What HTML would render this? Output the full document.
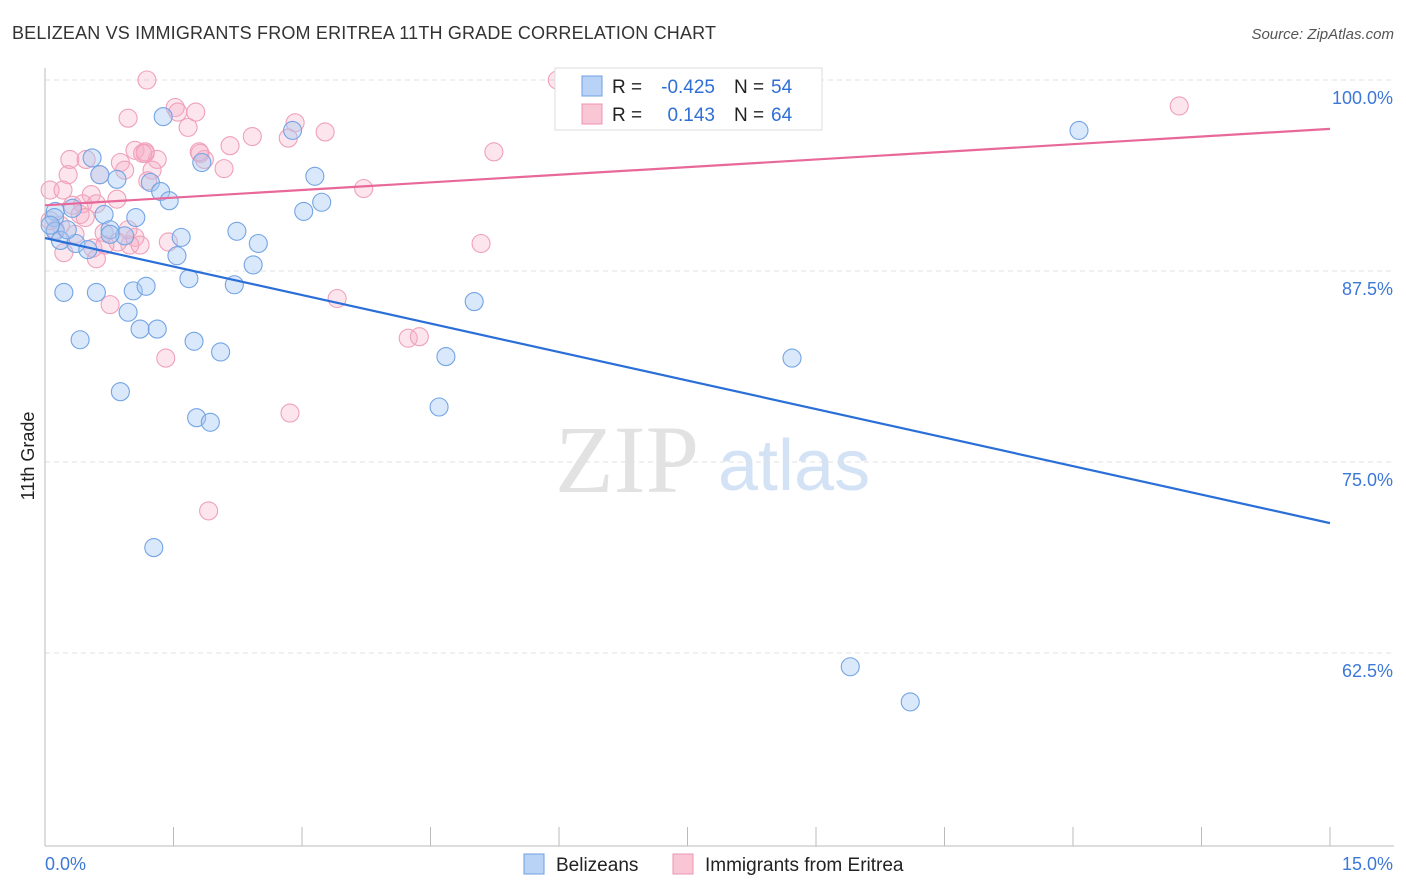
<!DOCTYPE html>
<html><head><meta charset="utf-8">
<style>
body{margin:0;background:#fff;font-family:"Liberation Sans",sans-serif;}
#wrap{position:relative;width:1406px;height:892px;overflow:hidden;}
</style></head>
<body>
<div id="wrap">
<svg id="chart" width="1406" height="892" xmlns="http://www.w3.org/2000/svg">
<text x="12" y="39" font-size="18" fill="#333" textLength="704">BELIZEAN VS IMMIGRANTS FROM ERITREA 11TH GRADE CORRELATION CHART</text>
<text x="1394" y="39" font-size="15" fill="#555" font-style="italic" text-anchor="end">Source: ZipAtlas.com</text>
<text x="34" y="456" font-size="18" fill="#222" text-anchor="middle" transform="rotate(-90 34 456)">11th Grade</text>
<text x="555" y="492" font-size="96" fill="#e2e2e2" font-family="Liberation Serif,serif">ZIP</text>
<text x="718" y="490" font-size="72" fill="#d3e2f5">atlas</text>
<g id="grid"></g><g id="axes"></g><g id="pts"></g><g id="lines"></g>
<g>
<rect x="555" y="68" width="267" height="62" fill="#fff" stroke="#ddd"/>
<rect x="582" y="76" width="20" height="20" fill="#b8d3f5" stroke="#6f9fe0"/>
<rect x="582" y="104" width="20" height="20" fill="#f9c6d5" stroke="#ec94b0"/>
<text x="612" y="93" font-size="19" fill="#222">R =</text>
<text x="715" y="93" font-size="19" fill="#2f6fd6" text-anchor="end">-0.425</text>
<text x="734" y="93" font-size="19" fill="#222">N =</text>
<text x="771" y="93" font-size="19" fill="#2f6fd6">54</text>
<text x="612" y="121" font-size="19" fill="#222">R =</text>
<text x="715" y="121" font-size="19" fill="#2f6fd6" text-anchor="end">0.143</text>
<text x="734" y="121" font-size="19" fill="#222">N =</text>
<text x="771" y="121" font-size="19" fill="#2f6fd6">64</text>
</g>
<g>
<rect x="524" y="854" width="20" height="20" fill="#b8d3f5" stroke="#6f9fe0"/>
<text x="556" y="871" font-size="19" fill="#222">Belizeans</text>
<rect x="673" y="854" width="20" height="20" fill="#f9c6d5" stroke="#ec94b0"/>
<text x="705" y="871" font-size="19" fill="#222">Immigrants from Eritrea</text>
</g>
</svg>
</div>
<script>
const yTicks=[100,87.5,75,62.5];
const yTickLabels=["100.0%","87.5%","75.0%","62.5%"];
const xTickCount=10;
const xLabels=["0.0%","15.0%"];
const blueX=[0.55,1.38,1.83,2.89,0.64,0.84,1.23,1.35,1.45,3.15,3.23,3.02,12.07,0.12,0.11,0.32,0.69,1.06,0.76,0.93,0.12,0.18,0.36,1.59,1.54,2.24,2.49,2.43,1.68,2.21,0.22,0.60,1.03,1.18,5.01,0.97,1.11,1.31,0.41,1.74,2.05,4.68,8.72,0.88,1.77,1.93,4.60,1.27,9.40,10.10,0.26,0.06,0.50,0.76];
const blueY=[94.9,97.6,94.6,96.7,93.8,93.5,93.3,92.7,92.1,93.7,92.0,91.4,96.7,91.4,91.0,91.6,91.2,91.0,90.2,89.8,90.1,89.5,89.3,89.7,88.5,90.1,89.3,87.9,87.0,86.6,86.1,86.1,86.2,86.5,85.5,84.8,83.7,83.7,83.0,82.9,82.2,81.9,81.8,79.6,77.9,77.6,78.6,69.4,61.6,59.3,90.2,90.5,88.9,89.9];
const pinkX=[1.19,5.98,1.52,1.76,0.97,1.67,2.92,3.27,2.42,2.16,2.84,13.24,0.29,0.48,0.88,1.05,1.17,1.31,1.86,2.09,0.93,1.25,0.27,0.64,1.20,3.72,5.24,1.81,0.06,0.21,0.54,0.84,0.32,0.41,0.44,0.60,0.12,0.35,0.69,1.05,1.44,0.99,0.56,0.22,0.60,5.09,3.41,0.76,1.41,4.24,4.37,2.86,1.91,0.06,0.18,0.47,0.85,0.97,1.80,1.55,1.17,1.14,0.70,1.11];
const pinkY=[100,100,98.2,97.9,97.5,96.9,97.2,96.6,96.3,95.7,96.2,98.3,94.8,94.8,94.6,95.4,95.2,94.8,94.8,94.2,94.1,94.1,93.8,93.8,93.4,92.9,95.3,95.2,92.8,92.8,92.5,92.2,91.8,91.2,91.9,91.9,90.2,89.9,90.0,89.7,89.4,89.2,89.0,88.7,88.3,89.3,85.7,85.3,81.8,83.1,83.2,78.2,71.8,90.8,90.5,91.0,89.4,90.2,95.3,97.9,95.3,95.2,89.2,89.2];
const blueTrend=[89.66,71.0];
const pinkTrend=[91.8,96.8];
const trendX=[0,15];

const NS="http://www.w3.org/2000/svg";
const X=v=>45+v/15*1285;
const Y=v=>80+(100-v)/12.5*191;
function mk(tag,attrs,parent){const e=document.createElementNS(NS,tag);for(const k in attrs)e.setAttribute(k,attrs[k]);parent.appendChild(e);return e;}
const grid=document.getElementById('grid'),axes=document.getElementById('axes'),pts=document.getElementById('pts'),lines=document.getElementById('lines');
yTicks.forEach((t,i)=>{
  const l=mk('line',{x1:45,x2:1394,y1:Y(t),y2:Y(t),stroke:'#e0e0e0','stroke-dasharray':'5,4'},grid);
  
  
  const tx=mk('text',{x:1393,y:Y(t)+24,'font-size':18,fill:'#3c78d8','text-anchor':'end'},grid);
  tx.textContent=yTickLabels[i];
  
  
});
const ax=mk('line',{x1:45,x2:45,y1:68,y2:846,stroke:'#bbb'},axes);


const bx=mk('line',{x1:45,x2:1394,y1:846,y2:846,stroke:'#bbb'},axes);


for(let i=0;i<=xTickCount;i++){
  const t=mk('line',{x1:X(i*1.5),x2:X(i*1.5),y1:827,y2:846,stroke:'#bbb'},axes);
  
  
}
const xl0=mk('text',{x:45,y:870,'font-size':18,fill:'#3c78d8'},axes);xl0.textContent=xLabels[0];


const xl1=mk('text',{x:1393,y:870,'font-size':18,fill:'#3c78d8','text-anchor':'end'},axes);xl1.textContent=xLabels[1];


pinkX.forEach((v,i)=>{
  const c=mk('circle',{cx:X(v),cy:Y(pinkY[i]),r:9,fill:'rgba(247,175,198,0.32)',stroke:'#f0a0b9','stroke-width':1.1},pts);
  
  
});
blueX.forEach((v,i)=>{
  const c=mk('circle',{cx:X(v),cy:Y(blueY[i]),r:9,fill:'rgba(165,200,242,0.42)',stroke:'#74a4e4','stroke-width':1.1},pts);
  
  
});
const bl=mk('line',{x1:X(trendX[0]),y1:Y(blueTrend[0]),x2:X(trendX[1]),y2:Y(blueTrend[1]),stroke:'#2a6fd8','stroke-width':2.2},lines);


const pl=mk('line',{x1:X(trendX[0]),y1:Y(pinkTrend[0]),x2:X(trendX[1]),y2:Y(pinkTrend[1]),stroke:'#e8689a','stroke-width':2.2},lines);


</script>
</body></html>
